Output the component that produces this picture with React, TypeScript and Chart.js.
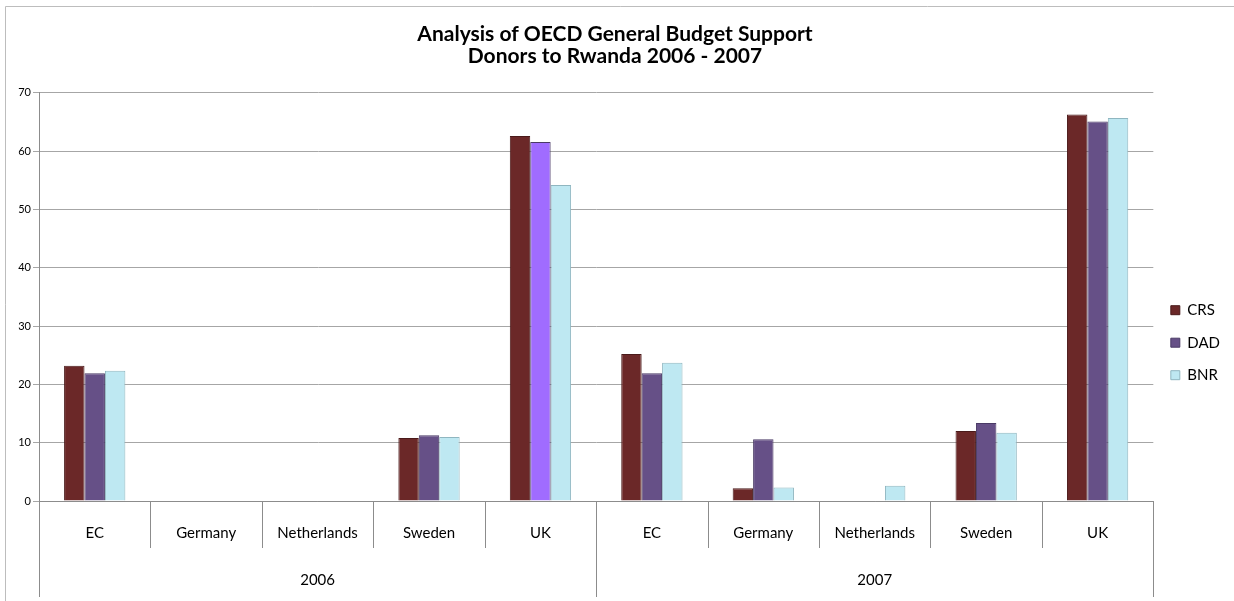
import React, { useEffect, useRef } from "react";
import { Chart, registerables } from "chart.js";

Chart.register(...registerables);

const years = ["2006", "2007"];
const donors = ["EC", "Germany", "Netherlands", "Sweden", "UK"];
const categories = [...donors, ...donors];
const titleLines = ["Analysis of OECD General Budget Support", "Donors to Rwanda 2006 - 2007"];
const yTicks = [0, 10, 20, 30, 40, 50, 60, 70];

const crsValues = [23.2, 0, 0, 10.8, 62.6, 25.2, 2.2, 0, 12.0, 66.3];
const dadValues = [21.9, 0, 0, 11.3, 61.6, 21.9, 10.6, 0, 13.4, 65.1];
const bnrValues = [22.35, 0, 0, 11.0, 54.2, 23.7, 2.3, 2.6, 11.7, 65.7];

const FONT = "Lato, 'Open Sans', sans-serif";

const frameAndSeparators = {
  id: "frameAndSeparators",
  beforeDraw(chart: any) {
    const ctx = chart.ctx;
    ctx.save();
    ctx.fillStyle = "#ffffff";
    ctx.fillRect(0, 0, chart.width, chart.height);
    ctx.strokeStyle = "#bdbdbd";
    ctx.lineWidth = 1;
    ctx.beginPath();
    ctx.moveTo(5.5, chart.height + 5);
    ctx.lineTo(5.5, 6.5);
    ctx.lineTo(chart.width + 5, 6.5);
    ctx.stroke();
    ctx.restore();
  },
  afterDraw(chart: any) {
    const ctx = chart.ctx;
    const area = chart.chartArea;
    const n = categories.length;
    const per = (area.right - area.left) / n;
    const perYear = n / years.length;
    ctx.save();
    ctx.strokeStyle = "#8c8c8c";
    ctx.lineWidth = 1;
    for (let i = 0; i <= n; i++) {
      const x = Math.round(area.left + per * i) + 0.5;
      const isYear = i % perYear === 0;
      ctx.beginPath();
      ctx.moveTo(x, area.bottom);
      ctx.lineTo(x, isYear ? area.bottom + 96 : area.bottom + 47);
      ctx.stroke();
    }
    ctx.restore();
  },
};

export default function App() {
  const ref = useRef<HTMLCanvasElement>(null);
  useEffect(() => {
    if (!ref.current) return;
    const dadColors = dadValues.map((_, i) => (i === 4 ? "#a06cff" : "#665087"));
    const chart = new Chart(ref.current, {
      type: "bar",
      data: {
        labels: categories,
        datasets: [
          { label: "CRS", data: crsValues, backgroundColor: "#6b2828", borderColor: "#4a1a1a", borderWidth: 1 },
          { label: "DAD", data: dadValues, backgroundColor: dadColors, borderColor: "#4a3a66", borderWidth: 1 },
          { label: "BNR", data: bnrValues, backgroundColor: "#bee8f2", borderColor: "#8fb6c0", borderWidth: 1 },
        ],
      },
      options: {
        responsive: false,
        animation: false,
        devicePixelRatio: 1,
        layout: { padding: { top: 10, left: 0, right: 4, bottom: 0 } },
        datasets: { bar: { categoryPercentage: 0.55, barPercentage: 1 } },
        plugins: {
          tooltip: { enabled: false },
          title: {
            display: true,
            text: titleLines,
            color: "#000",
            font: { family: FONT, size: 21, weight: "bold", lineHeight: 1.07 },
            padding: { top: 13, bottom: 25 },
          },
          legend: {
            position: "right",
            title: { display: true, text: " ", font: { size: 12 }, padding: { top: 60, bottom: 0 } },
            labels: {
              color: "#000",
              font: { family: FONT, size: 15 },
              boxWidth: 9,
              boxHeight: 9,
              padding: 17.5,
            },
          },
        },
        scales: {
          x: {
            type: "category",
            position: "bottom",
            weight: 0,
            offset: true,
            afterFit: (scale: any) => {
              scale.height = 47;
            },
            grid: { display: false, drawTicks: false },
            border: { display: true, color: "#8c8c8c" },
            ticks: { color: "#000", font: { family: FONT, size: 15 }, padding: 23, maxRotation: 0, autoSkip: false },
          },
          x2: {
            type: "category",
            position: "bottom",
            weight: 1,
            labels: years,
            offset: true,
            afterFit: (scale: any) => {
              scale.height = 53;
            },
            grid: { display: false, drawTicks: false },
            border: { display: false },
            ticks: { color: "#000", font: { family: FONT, size: 15 }, padding: 23, maxRotation: 0, autoSkip: false },
          },
          y: {
            min: 0,
            max: 70,
            afterBuildTicks: (scale: any) => {
              scale.ticks = yTicks.map((v) => ({ value: v }));
            },
            afterFit: (scale: any) => {
              scale.width = 39;
            },
            grid: { color: "#a6a6a6", tickLength: 6, drawTicks: true },
            border: { display: true, color: "#8c8c8c" },
            ticks: { color: "#000", font: { family: FONT, size: 11 }, padding: 2 },
          },
        },
      },
      plugins: [frameAndSeparators],
    });
    return () => chart.destroy();
  }, []);
  return (
    <div style={{ position: "fixed", left: 0, top: 0, width: 1234, height: 601, background: "#fff" }}>
      <canvas ref={ref} width={1234} height={601} style={{ display: "block" }} />
    </div>
  );
}
